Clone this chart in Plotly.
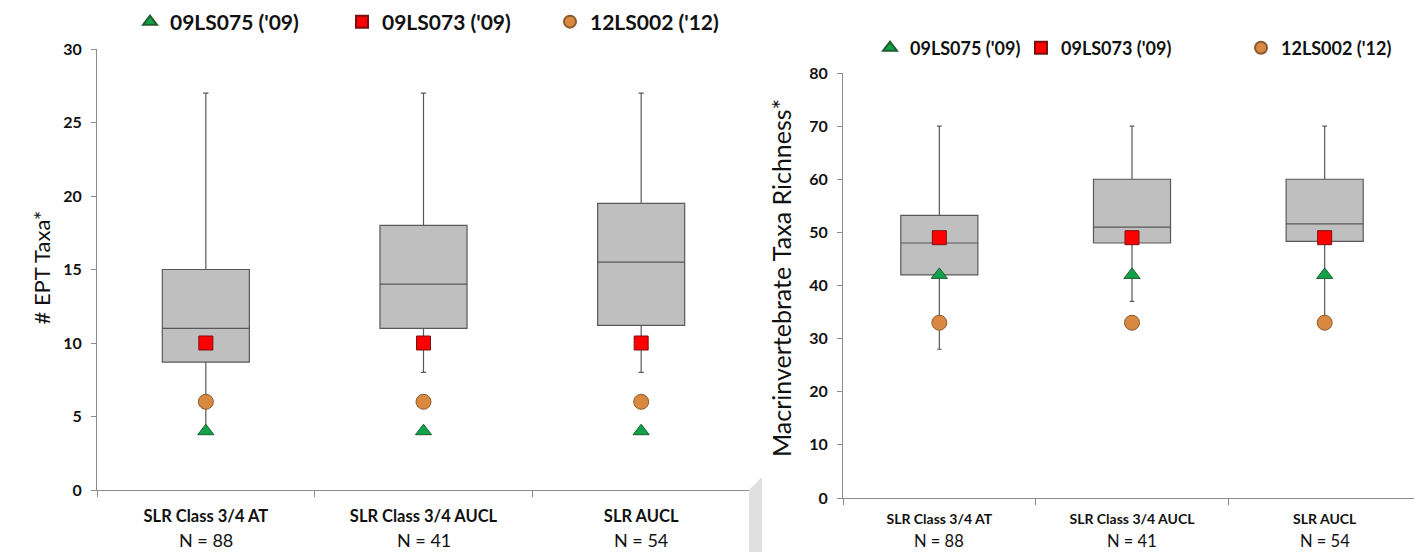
import plotly.graph_objects as go

# ---------------- data ----------------
categories = ["SLR Class 3/4 AT", "SLR Class 3/4 AUCL", "SLR AUCL"]
n_labels = ["N = 88", "N = 41", "N = 54"]

# Left panel: # EPT Taxa*
ept_min = [4, 8, 8]
ept_q1 = [8.7, 11, 11.2]
ept_med = [11, 14, 15.5]
ept_q3 = [15, 18, 19.5]
ept_max = [27, 27, 27]
ept_09LS075 = [4, 4, 4]
ept_09LS073 = [10, 10, 10]
ept_12LS002 = [6, 6, 6]

# Right panel: Macrinvertebrate Taxa Richness*
rich_min = [28, 37, 33]
rich_q1 = [42, 48, 48.3]
rich_med = [48, 51, 51.6]
rich_q3 = [53.2, 60, 60]
rich_max = [70, 70, 70]
rich_09LS075 = [42, 42, 42]
rich_09LS073 = [49, 49, 49]
rich_12LS002 = [33, 33, 33]

series_names = ["09LS075 ('09)", "09LS073 ('09)", "12LS002 ('12)"]

# ---------------- styles ----------------
FONT = "Lato"
TXT = "#111111"
AX = "#8c8c8c"
BOX_FILL = "#bfbfbf"
BOX_LINE = "#595959"
sym = ["triangle-up", "square", "circle"]
fill = ["#12a24a", "#ff0000", "#d9893f"]
edge = ["#1d5e2e", "#7a1010", "#8a5a30"]
msize = [14, 14, 15]

# page body has an 8px margin: the figure sits at (8, 8) in the window
OFF = 8
W, H = 1422 - OFF, 552 - OFF
def px_x(v):
    return (v - OFF) / W
def px_y(v):
    return (H - (v - OFF)) / H

fig = go.Figure()

def add_panel(xa, ya, lo, q1, med, q3, hi, pts, legend_ids):
    fig.add_trace(go.Box(
        x=categories, lowerfence=lo, q1=q1, median=med, q3=q3, upperfence=hi,
        xaxis=xa, yaxis=ya, fillcolor=BOX_FILL,
        line=dict(color=BOX_LINE, width=1.2), width=0.4, whiskerwidth=0.06,
        boxpoints=False, showlegend=False, hoverinfo="skip"))
    for i in range(3):
        fig.add_trace(go.Scatter(
            x=categories, y=pts[i], mode="markers", name=series_names[i],
            xaxis=xa, yaxis=ya, legend=legend_ids[i],
            marker=dict(symbol=sym[i], size=msize[i], color=fill[i],
                        line=dict(color=edge[i], width=1))))

add_panel("x", "y", ept_min, ept_q1, ept_med, ept_q3, ept_max,
          [ept_09LS075, ept_09LS073, ept_12LS002], ["legend", "legend2", "legend3"])
add_panel("x2", "y2", rich_min, rich_q1, rich_med, rich_q3, rich_max,
          [rich_09LS075, rich_09LS073, rich_12LS002], ["legend4", "legend5", "legend6"])

def xaxis_style(fs, standoff):
    return dict(type="category", categoryorder="array", categoryarray=categories,
                range=[-0.5, 2.5], showline=True, linecolor=AX, linewidth=1,
                ticks="outside", tickson="boundaries", ticklen=6, tickcolor=AX,
                showgrid=False, zeroline=False, tickvals=categories,
                ticktext=["<b>%s</b>" % c for c in categories],
                tickfont=dict(family=FONT, size=fs, color=TXT), ticklabelstandoff=standoff)

ycommon = dict(showline=True, linecolor=AX, linewidth=1, ticks="outside", ticklen=5,
               tickcolor=AX, showgrid=False, zeroline=False,
               tickfont=dict(family=FONT, size=16, color=TXT, weight="bold"),
               ticklabelstandoff=6)

fig.update_layout(
    width=W, height=H, margin=dict(l=0, r=0, t=0, b=0, autoexpand=False),
    paper_bgcolor="white", plot_bgcolor="white",
    xaxis=dict(domain=[px_x(97), px_x(750)], anchor="y", **xaxis_style(16.5, 11)),
    yaxis=dict(domain=[px_y(490), px_y(49)], range=[0, 30], dtick=5, anchor="x", **ycommon),
    xaxis2=dict(domain=[px_x(843), min(1.0, px_x(1421))], anchor="y2", **xaxis_style(14, 8)),
    yaxis2=dict(domain=[px_y(498), px_y(73)], range=[0, 80], dtick=10, anchor="x2", **ycommon),
)

# legends: one per item so positions match the reference
leg_pos = [(157, 22, 21), (369, 22, 21), (577, 22, 21),
           (897, 48, 18), (1048, 48, 18), (1268, 48, 18)]
names = ["legend", "legend2", "legend3", "legend4", "legend5", "legend6"]
for nm, (cx, cy, fs) in zip(names, leg_pos):
    fig.update_layout({nm: dict(x=px_x(cx - 27), y=px_y(cy), xanchor="left", yanchor="middle",
                                orientation="h", bgcolor="rgba(0,0,0,0)",
                                font=dict(family=FONT, size=fs, color=TXT, weight="bold"),
                                itemsizing="constant")})

# N = labels
for xa, ypix, fs in [("x", 540, 18), ("x2", 541, 16.5)]:
    for c, n in zip(categories, n_labels):
        fig.add_annotation(x=c, xref=xa, y=px_y(ypix), yref="paper", text=n,
                           showarrow=False, font=dict(family=FONT, size=fs, color=TXT),
                           yanchor="middle")

# axis titles
fig.add_annotation(x=px_x(25), y=px_y(268), xref="paper", yref="paper", text="# EPT Taxa*",
                   textangle=-90, showarrow=False, font=dict(family=FONT, size=22, color=TXT))
fig.add_annotation(x=px_x(781), y=px_y(278), xref="paper", yref="paper",
                   text="Macrinvertebrate Taxa Richness*", textangle=-90, showarrow=False,
                   font=dict(family=FONT, size=25, color=TXT))

# page-fold stripe decoration
fig.add_shape(type="path", xref="paper", yref="paper",
              path="M %f %f L %f %f L %f %f L %f %f Z" % (
                  px_x(749), px_y(490), px_x(762), px_y(477), px_x(762), 0, px_x(749), 0),
              fillcolor="#e0e0e0", line=dict(width=0), layer="above")

fig.write_html("out.html")
